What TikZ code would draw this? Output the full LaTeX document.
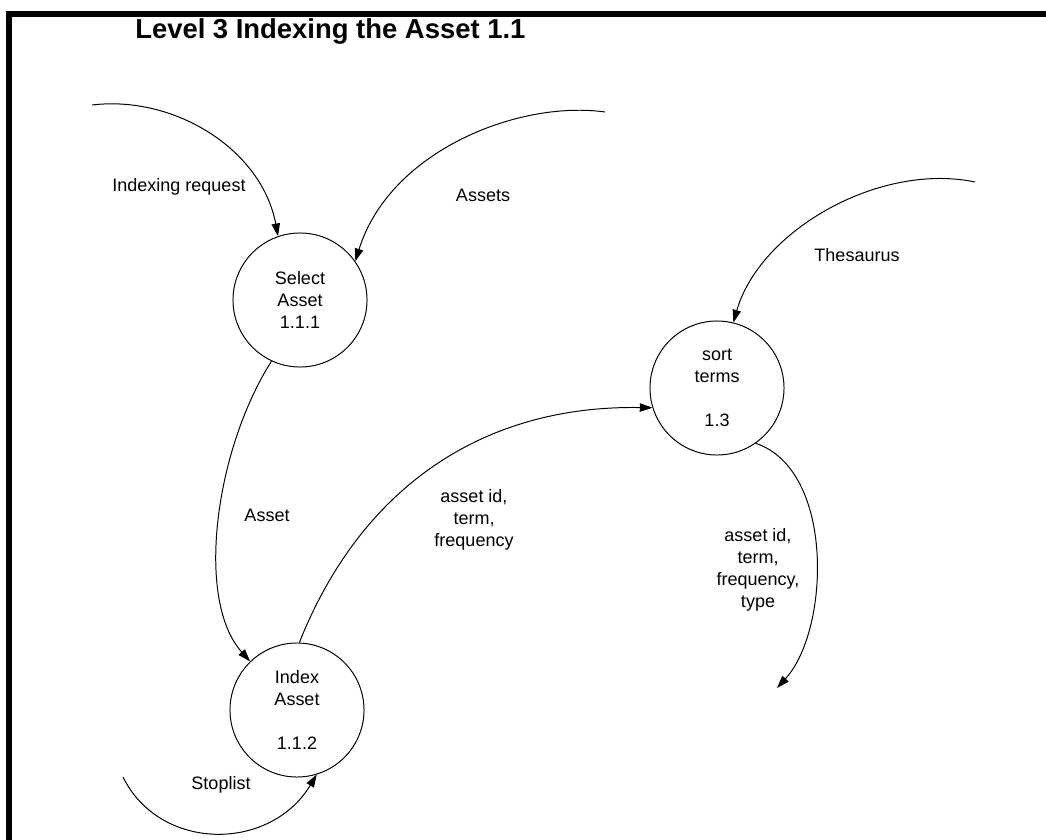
\documentclass[tikz,border=0pt]{standalone}
\usepackage{fontspec}
\setmainfont{Liberation Sans}
\usetikzlibrary{arrows.meta}

\begin{document}
\begin{tikzpicture}[x=0.025cm, y=-0.025cm,
    proc/.style={draw, circle, line width=0.7pt, minimum size=3.35cm, inner sep=0pt, align=center, font=\fontsize{12.8}{15.6}\selectfont},
    flow/.style={line width=0.7pt, -{Triangle[length=9pt,width=6pt]}},
    lbl/.style={align=center, inner sep=0pt, font=\fontsize{12.8}{15.6}\selectfont}]
        \useasboundingbox (0,0) rectangle (1046,840);

        % Frame and title
        \draw[line width=4.2pt] (9,840) -- (9,14) -- (1046,14);
        \node[anchor=west, inner sep=0pt, font=\bfseries\fontsize{19.5}{22}\selectfont] (title) at (135,31) {Level 3 Indexing the Asset 1.1};

        % Processes
        \node[proc] (sel) at (300,300) {Select\\Asset\\1.1.1};
        \node[proc] (idx) at (297,710) {Index\\Asset\\[16pt]1.1.2};
        \node[proc] (srt) at (717,388) {sort\\terms\\[16pt]1.3};

        % Loose ends of the flows
        \coordinate (reqsrc) at (92,105);
        \coordinate (assrc) at (605,112);
        \coordinate (thessrc) at (975,182);
        \coordinate (stopsrc) at (123,777);
        \coordinate (outend) at (777,688);

        % Flows
        \draw[flow] (reqsrc) .. controls (175,95) and (262,150) .. (sel.109);
        \draw[flow] (assrc) .. controls (520,100) and (390,150) .. (sel.35);
        \draw[flow] (sel.245) .. controls (215,450) and (195,600) .. (idx.134);
        \draw[flow] (idx.88) .. controls (360,490) and (480,405) .. (srt.197);
        \draw[flow] (thessrc) .. controls (880,162) and (760,230) .. (srt.76);
        \draw[flow] (srt.-55) .. controls (835,470) and (830,630) .. (outend);
        \draw[flow] (stopsrc) .. controls (160,852) and (270,852) .. (idx.287);

        % Flow labels
        \node[lbl] (reqlbl) at (179,187) {Indexing request};
        \node[lbl] (aslbl) at (483,195) {Assets};
        \node[lbl] (theslbl) at (857,255) {Thesaurus};
        \node[lbl] (asslbl) at (267,515) {Asset};
        \node[lbl] (termlbl) at (474,520) {asset id,\\term,\\frequency};
        \node[lbl] (typelbl) at (758,570) {asset id,\\term,\\frequency,\\type};
        \node[lbl] (stoplbl) at (221,785) {Stoplist};
\end{tikzpicture}
\end{document}
